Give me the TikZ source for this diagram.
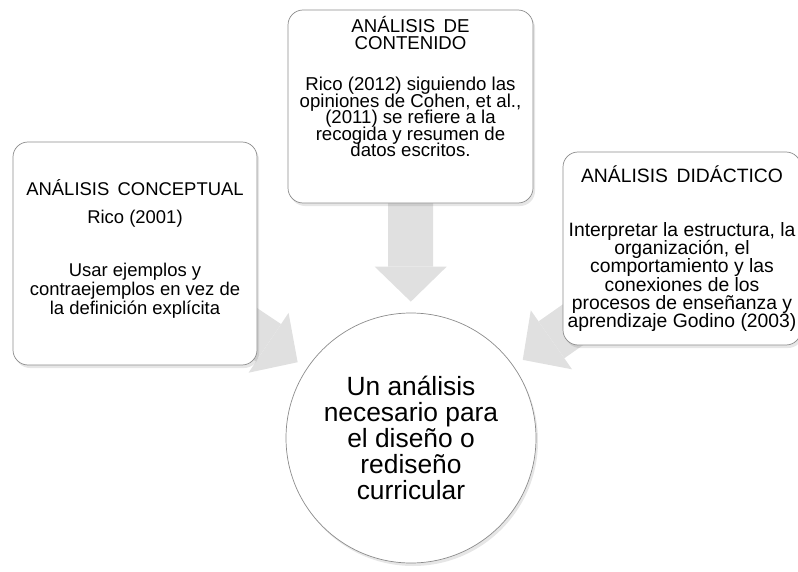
\documentclass[tikz,border=0pt]{standalone}
\usepackage{fontspec}
\setmainfont{Liberation Sans}
\usetikzlibrary{arrows.meta,shadows,backgrounds}

\begin{document}
\begin{tikzpicture}[
    box/.style={rectangle,draw=black!45,fill=white,rounded corners=0.3cm,align=center,inner sep=0.05cm,
        execute at begin node={\lineskiplimit=-20pt},
        drop shadow={shadow xshift=0.04cm,shadow yshift=-0.06cm,opacity=0.2}},
    block_arrow/.style={draw=black!12,line width=0.9cm,-{Triangle[length=0.7cm,width=1.44cm,line width=0pt]},shorten >=0.22cm}
]
    \useasboundingbox (0,0) rectangle (15.96,11.42);
    \clip (0,0) rectangle (15.96,11.42);

    \node[box,minimum width=4.9cm,minimum height=3.86cm,font=\fontsize{10.6}{9.4}\selectfont] (contenido) at (8.21,9.29)
        {ANÁLISIS\, DE\\CONTENIDO\\[0.5cm]Rico (2012) siguiendo las\\opiniones de Cohen, et al.,\\(2011) se refiere a la\\recogida y resumen de\\datos escritos.\rule[-0.8cm]{0pt}{0pt}} ;
    \node[box,minimum width=4.88cm,minimum height=4.46cm,font=\fontsize{10.5}{10.8}\selectfont] (conceptual) at (2.70,6.35)
        {ANÁLISIS\, CONCEPTUAL\\[0.18cm]Rico (2001)\\[0.68cm]Usar ejemplos y\\contraejemplos en vez de\\la definición explícita\rule[-0.25cm]{0pt}{0pt}} ;
    \node[box,minimum width=4.76cm,minimum height=3.86cm,font=\fontsize{11}{10.4}\selectfont] (didactico) at (13.64,6.45)
        {ANÁLISIS\, DIDÁCTICO\\[0.72cm]Interpretar la estructura, la\\organización, el\\comportamiento y las\\conexiones de los\\procesos de enseñanza y\\aprendizaje Godino (2003)} ;
    \node[circle,draw=black!45,fill=white,minimum size=5cm,inner sep=0cm,align=center,font=\fontsize{15}{14.7}\selectfont,
        drop shadow={shadow xshift=0.04cm,shadow yshift=-0.06cm,opacity=0.2}] (curricular) at (8.22,2.66)
        {Un análisis\\necesario para\\el diseño o\\rediseño\\curricular} ;

    \begin{scope}[on background layer]
        \draw[block_arrow] (contenido.center) -- (curricular) ;
        \draw[block_arrow] (conceptual.center) -- (curricular) ;
        \draw[block_arrow] (didactico.center) -- (curricular) ;
    \end{scope}

\end{tikzpicture}
\end{document}
